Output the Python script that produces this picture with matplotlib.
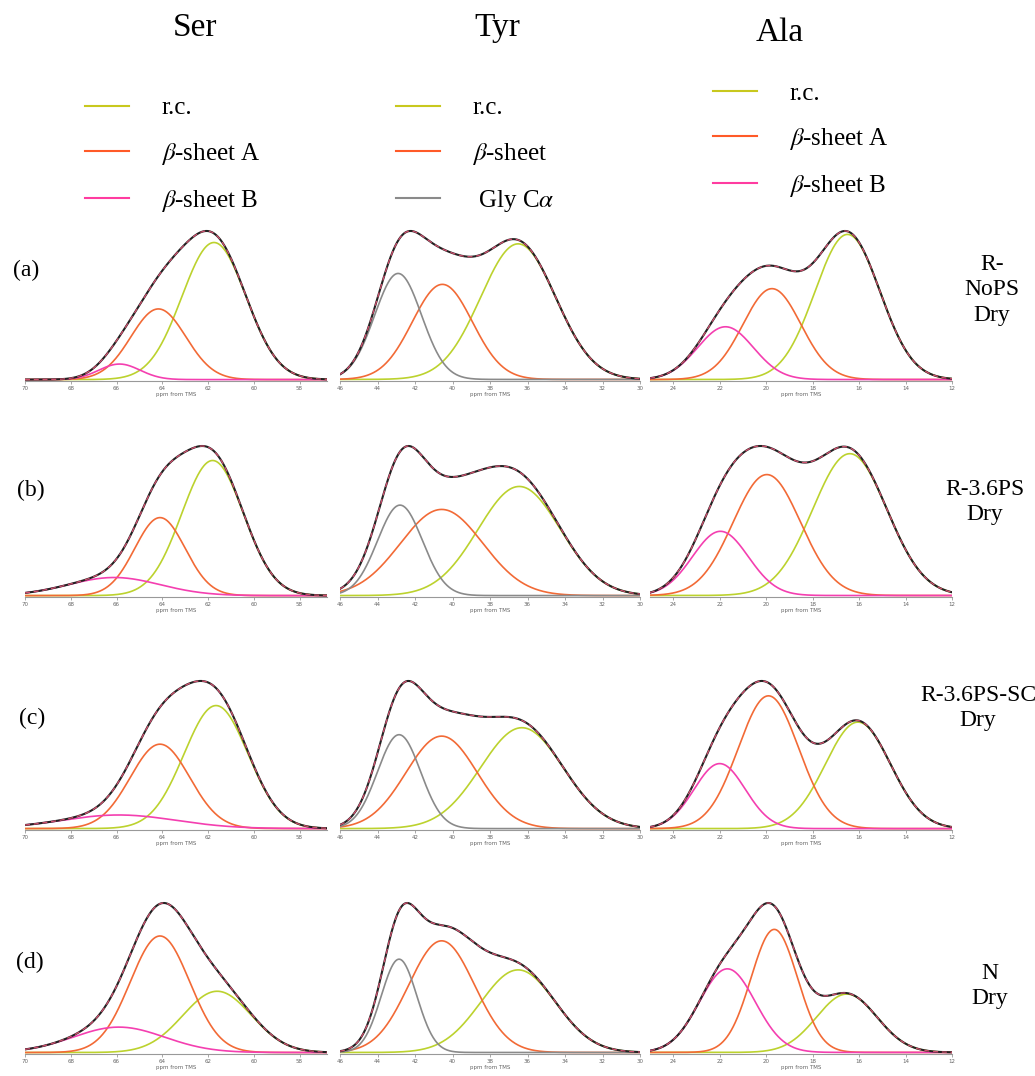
import numpy as np
import matplotlib.pyplot as plt
from matplotlib.lines import Line2D

plt.rcParams['font.family'] = ['Liberation Serif', 'DejaVu Serif']
plt.rcParams['mathtext.fontset'] = 'stix'

# --- columns ---
columns = ["Ser", "Tyr", "Ala"]
row_tags = ["(a)", "(b)", "(c)", "(d)"]
samples = ["R-\nNoPS\nDry", "R-3.6PS\nDry", "R-3.6PS-SC\nDry", "N\nDry"]

ser_labels = ["r.c.", r"$\beta$-sheet A", r"$\beta$-sheet B"]
tyr_labels = ["r.c.", r"$\beta$-sheet", r" Gly C$\alpha$"]
ala_labels = ["r.c.", r"$\beta$-sheet A", r"$\beta$-sheet B"]

c_rc = "#bcd22e"
c_ba = "#f26a36"
c_bb = "#f43fb0"
c_gly = "#8a8a8a"
ser_colors = [c_rc, c_ba, c_bb]
tyr_colors = [c_rc, c_ba, c_gly]
ala_colors = [c_rc, c_ba, c_bb]
ser_legend_colors = ["#c8c81e", "#ff5a28", "#ff3ca0"]
tyr_legend_colors = ["#c8c81e", "#ff5a28", "#8a8a8a"]
ala_legend_colors = ["#c8c81e", "#ff5a28", "#ff3ca0"]

ser_xlim = (70, 56.8)
tyr_xlim = (46, 30)
ala_xlim = (25.0, 12)
ser_ticks = [70, 68, 66, 64, 62, 60, 58]
tyr_ticks = [46, 44, 42, 40, 38, 36, 34, 32, 30]
ala_ticks = [24, 22, 20, 18, 16, 14, 12]

# Gaussian fit components per row (a-d): [r.c., beta A / beta, beta B / Gly]
ser_center = [[61.74, 64.17, 65.87], [61.8, 64.1, 66.1], [61.65, 64.1, 65.9], [61.6, 64.1, 65.9]]
ser_height = [[0.97, 0.50, 0.11], [0.97, 0.56, 0.13], [0.86, 0.59, 0.095], [0.41, 0.78, 0.17]]
ser_width = [[1.4, 1.2, 0.9], [1.35, 1.1, 2.0], [1.4, 1.3, 2.5], [1.5, 1.3, 2.0]]

tyr_center = [[36.5, 40.54, 42.9], [36.44, 40.58, 42.8], [36.3, 40.58, 42.85], [36.5, 40.58, 42.85]]
tyr_height = [[0.87, 0.61, 0.68], [0.76, 0.60, 0.63], [0.72, 0.66, 0.67], [0.54, 0.73, 0.61]]
tyr_width = [[2.0, 1.6, 1.25], [2.2, 2.2, 1.2], [2.2, 1.9, 1.15], [2.0, 1.75, 0.95]]

ala_center = [[16.5, 19.75, 21.75], [16.4, 19.97, 21.97], [16.05, 19.9, 22.0], [16.53, 19.65, 21.67]]
ala_height = [[0.99, 0.62, 0.36], [0.95, 0.81, 0.43], [0.77, 0.96, 0.47], [0.37, 0.78, 0.53]]
ala_width = [[1.4, 1.25, 1.2], [1.6, 1.45, 1.2], [1.4, 1.3, 1.1], [1.3, 1.0, 1.2]]

col_data = [
    (ser_center, ser_height, ser_width, ser_colors, ser_xlim, ser_ticks),
    (tyr_center, tyr_height, tyr_width, tyr_colors, tyr_xlim, tyr_ticks),
    (ala_center, ala_height, ala_width, ala_colors, ala_xlim, ala_ticks),
]

W, H = 1035, 1076
fig = plt.figure(figsize=(W / 100, H / 100), dpi=100)

col_px = [(25, 302), (340, 300), (650, 302)]
row_px = [(228, 381), (443, 597), (678, 830), (900, 1054)]

for r, (top, bot) in enumerate(row_px):
    for c, (left, wid) in enumerate(col_px):
        centers, heights, widths, colors, xlim, ticks = col_data[c]
        ax = fig.add_axes([left / W, 1 - bot / H, wid / W, (bot - top) / H])
        x = np.linspace(xlim[0], xlim[1], 600)
        total = np.zeros_like(x)
        comps = []
        for x0, h, s in zip(centers[r], heights[r], widths[r]):
            g = h * np.exp(-(x - x0) ** 2 / (2 * s ** 2))
            comps.append(g)
            total += g
        for g, col in zip(comps, colors):
            ax.plot(x, g, color=col, lw=1.2)
        ax.plot(x, total, color="#222222", lw=1.5)
        ax.plot(x, total, color="#d0506e", lw=0.9, ls=(0, (4, 3)))
        ax.set_xlim(*xlim)
        ax.set_ylim(-0.01, total.max() * 1.02)
        ax.set_yticks([])
        for sp in ["top", "left", "right"]:
            ax.spines[sp].set_visible(False)
        ax.spines["bottom"].set_color("#999999")
        ax.spines["bottom"].set_linewidth(0.8)
        ax.set_xticks(ticks)
        ax.set_xticklabels([str(t) for t in ticks], fontsize=4, color="#666666",
                           family="DejaVu Sans")
        ax.tick_params(axis="x", length=2, width=0.6, color="#999999", pad=1.5)
        ax.set_xlabel("ppm from TMS", fontsize=4, color="#666666", labelpad=1,
                      family="DejaVu Sans")
        ax.patch.set_alpha(0)

# column titles
for name, (xc, yc) in zip(columns, [(195, 28), (497, 28), (780, 33)]):
    fig.text(xc / W, 1 - yc / H, name, fontsize=24, ha="center", va="center")

# row tags and sample names
for tag, (xc, yc) in zip(row_tags, [(26, 270), (31, 490), (32, 718), (30, 962)]):
    fig.text(xc / W, 1 - yc / H, tag, fontsize=17, ha="center", va="center")
for name, (xc, yc) in zip(samples, [(992, 290), (985, 502), (978, 708), (990, 986)]):
    fig.text(xc / W, 1 - yc / H, name, fontsize=17, ha="center", va="center",
             linespacing=1.3)

# legends
for labels, colors, (lx, ly) in zip([ser_labels, tyr_labels, ala_labels],
                                    [ser_legend_colors, tyr_legend_colors, ala_legend_colors],
                                    [(85, 97), (396, 97), (713, 82)]):
    handles = [Line2D([], [], color=col, lw=1.5) for col in colors]
    fig.legend(handles, labels, loc="upper left", bbox_to_anchor=(lx / W, 1 - ly / H),
               frameon=False, fontsize=18, handlelength=1.75, handletextpad=1.3,
               labelspacing=0.85, borderpad=0, borderaxespad=0)

fig.savefig("out.png", dpi=100)
